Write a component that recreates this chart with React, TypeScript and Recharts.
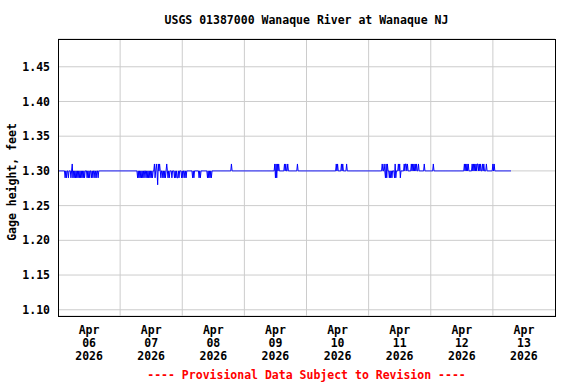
import { Line, LineChart, ReferenceLine, XAxis, YAxis, CartesianGrid } from 'recharts'

// hours since Apr 06 00:00, 15-minute readings, baseline 1.30 ft
const START_LEVEL = 1.3
const LAST_HOUR = 175
const DAY_LABELS = ['06', '07', '08', '09', '10', '11', '12', '13']
const DAY_TICKS = [12, 36, 60, 84, 108, 132, 156, 180]
const MIDNIGHTS = [24, 48, 72, 96, 120, 144, 168]
const Y_TICKS = [1.1, 1.15, 1.2, 1.25, 1.3, 1.35, 1.4, 1.45]

// stretches where the gage flickers down to 1.29
const LOW_BLOCKS: [number, number][] = [
  [2.7, 3.5], [3.9, 4.2], [5.0, 5.0], [5.8, 7.3], [7.7, 10.4], [11.2, 12.3],
  [13.1, 13.5], [14.3, 14.7], [15.4, 15.4],
  [30.8, 33.5], [33.9, 36.6], [37.4, 38.2], [39.3, 40.1], [40.5, 43.2],
  [44.0, 44.3], [45.1, 45.9], [46.3, 47.0], [47.8, 48.2], [49.0, 49.7],
  [52.0, 52.8], [54.4, 55.1], [57.8, 59.4],
  [84.0, 84.4],
  [126.5, 127.2], [128.0, 129.2], [129.9, 130.7], [132.2, 132.6], [138.0, 138.0],
]

// stretches where it flickers up to 1.31
const HIGH_BLOCKS: [number, number][] = [
  [5.5, 5.5],
  [37.3, 37.6], [37.9, 38.3], [38.7, 39.3], [42.0, 42.0], [67.1, 67.1],
  [83.7, 84.4], [84.8, 85.6], [87.5, 87.9], [88.7, 89.1], [92.5, 92.5],
  [107.6, 108.0], [109.5, 109.9], [111.4, 111.4],
  [125.3, 125.3], [126.1, 126.1], [126.8, 127.2], [130.3, 130.3], [131.5, 131.9],
  [133.8, 134.2], [134.6, 134.9], [136.5, 138.4], [139.2, 139.6], [141.5, 141.5],
  [145.0, 145.3],
  [156.9, 157.7], [158.1, 158.8], [160.0, 161.9], [162.3, 163.5], [163.9, 164.6],
  [165.4, 165.8], [168.1, 168.5],
]

// single readings at 1.28
const DEEP_DIPS = [38.5]

const levels: number[] = []
for (let i = 0; i <= LAST_HOUR * 4; i++) levels.push(START_LEVEL)
const mark = (blocks: [number, number][], v: number) => {
  blocks.forEach(([s, e]) => {
    for (let i = Math.round(s * 4); i <= Math.round(e * 4); i += 2) levels[i] = v
  })
}
mark(LOW_BLOCKS, 1.29)
mark(HIGH_BLOCKS, 1.31)
DEEP_DIPS.forEach((h) => (levels[Math.round(h * 4)] = 1.28))

const data = levels.map((v, i) => ({ h: i / 4, v }))

const FONT = '"DejaVu Sans Mono", monospace'

function DayTick({ x, y, payload }: any) {
  const idx = DAY_TICKS.indexOf(payload.value)
  return (
    <text
      x={x}
      y={y}
      textAnchor="middle"
      fontFamily={FONT}
      fontWeight="bold"
      fontSize={11.5}
      fill="#000"
    >
      <tspan x={x} dy={10}>Apr</tspan>
      <tspan x={x} dy={13}>{DAY_LABELS[idx]}</tspan>
      <tspan x={x} dy={13}>2026</tspan>
    </text>
  )
}

export default function App() {
  return (
    <div
      style={{
        position: 'absolute',
        left: 0,
        top: 0,
        width: 576,
        height: 384,
        background: '#fff',
        fontFamily: FONT,
        fontWeight: 'bold',
      }}
    >
      <div
        style={{
          position: 'absolute',
          left: 58,
          width: 497,
          top: 13,
          lineHeight: '14px',
          fontSize: 11.5,
          textAlign: 'center',
          color: '#000',
        }}
      >
        USGS 01387000 Wanaque River at Wanaque NJ
      </div>
      <LineChart
        width={576}
        height={384}
        data={data}
        margin={{ top: 39, right: 21, bottom: 0, left: 0 }}
      >
        <CartesianGrid stroke="#cccccc" vertical={false} />
        {MIDNIGHTS.map((m) => (
          <ReferenceLine key={m} x={m} stroke="#cccccc" />
        ))}
        <XAxis
          dataKey="h"
          type="number"
          domain={[0, 192]}
          ticks={DAY_TICKS}
          interval={0}
          height={68}
          axisLine={false}
          tickLine={false}
          tick={<DayTick />}
        />
        <YAxis
          type="number"
          domain={[1.091, 1.49]}
          ticks={Y_TICKS}
          width={58}
          allowDataOverflow
          axisLine={false}
          tickLine={false}
          tickFormatter={(v: number) => v.toFixed(2)}
          tick={{ fill: '#000', fontSize: 11.5, fontFamily: FONT, fontWeight: 'bold' }}
          label={{
            content: () => (
              <text
                x={12}
                y={182}
                transform="rotate(-90 12 182)"
                textAnchor="middle"
                dominantBaseline="central"
                fontFamily={FONT}
                fontWeight="bold"
                fontSize={11.5}
                fill="#000"
              >
                Gage height, feet
              </text>
            ),
          }}
        />
        <Line
          type="linear"
          dataKey="v"
          stroke="#0000ff"
          strokeWidth={1}
          dot={false}
          isAnimationActive={false}
        />
      </LineChart>
      <div
        style={{
          position: 'absolute',
          left: 58,
          top: 39,
          width: 498,
          height: 278,
          border: '1px solid #000',
          boxSizing: 'border-box',
          pointerEvents: 'none',
        }}
      />
      <div
        style={{
          position: 'absolute',
          left: 58,
          width: 497,
          top: 368,
          lineHeight: '14px',
          fontSize: 11.5,
          textAlign: 'center',
          color: '#ff0000',
        }}
      >
        ---- Provisional Data Subject to Revision ----
      </div>
    </div>
  )
}
